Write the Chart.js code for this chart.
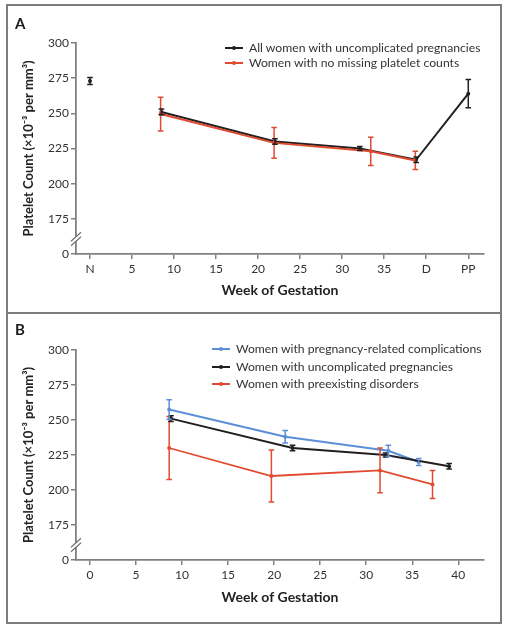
<!DOCTYPE html>
<html>
<head>
<meta charset="utf-8">
<script src="https://cdn.jsdelivr.net/npm/chart.js@4.4.1/dist/chart.umd.min.js"></script>
<style>
  html, body { margin: 0; padding: 0; background: #fff; }
  body { width: 506px; height: 628px; position: relative; overflow: hidden; font-family: Lato, "Open Sans", sans-serif; }
  canvas { position: absolute; left: 0; }
  #cA { top: 0; }
  #cB { top: 313px; }
  .frame { position: absolute; left: 6px; top: 4px; width: 492px; height: 616px; border: 2px solid #7d7d7d; pointer-events: none; }
  .divider { position: absolute; left: 6px; top: 312px; width: 496px; height: 2px; background: #7d7d7d; }
  .panel { position: absolute; font-weight: bold; font-size: 15px; color: #1a1a1a; }
  .leg { position: absolute; height: 16px; font-size: 12.2px; color: #333; white-space: nowrap; line-height: 16px; }
  .leg .smp { position: absolute; top: 7px; width: 18px; height: 2px; }
  .leg .dot { position: absolute; top: -1px; left: 7px; width: 4px; height: 4px; border-radius: 2px; }
  .leg .txt { position: absolute; top: 0; }
</style>
</head>
<body>
<canvas id="cA" width="506" height="313"></canvas>
<canvas id="cB" width="506" height="309"></canvas>
<div class="frame"></div>
<div class="divider"></div>
<div class="panel" style="left:15px; top:14px;">A</div>
<div class="panel" style="left:15px; top:320px;">B</div>
<div id="legA"></div>
<div id="legB"></div>
<script>
// ---------- Panel A data ----------
const weeksA_all = [0, 8.5, 22.0, 32.1, 38.8, 45];
const plateletA_all = [273, 251, 230, 225, 217, 264];
const errA_all = [2.5, 2, 2, 1.5, 2, 10];
const labelA_all = "All women with uncomplicated pregnancies";

const weeksA_complete = [8.4, 21.9, 33.4, 38.7];
const plateletA_complete = [249.5, 229, 223, 216.5];
const errA_complete = [12, 11, 10, 6.5];
const labelA_complete = "Women with no missing platelet counts";

const xTicksA = [0, 5, 10, 15, 20, 25, 30, 35, 40, 45];
const xTickNamesA = {0: "N", 40: "D", 45: "PP"};

// ---------- Panel B data ----------
const weeksB_compl = [8.6, 21.2, 32.4, 35.7];
const plateletB_compl = [257.5, 238, 228, 220];
const errB_compl = [7, 4.5, 4, 2.5];
const labelB_compl = "Women with pregnancy-related complications";

const weeksB_uncompl = [8.8, 22.0, 32.1, 39.0];
const plateletB_uncompl = [251, 230, 225, 217];
const errB_uncompl = [2, 2, 1.5, 2];
const labelB_uncompl = "Women with uncomplicated pregnancies";

const weeksB_pre = [8.6, 19.7, 31.5, 37.2];
const plateletB_pre = [230, 210, 214, 204];
const errB_pre = [22.5, 18.5, 16, 10];
const labelB_pre = "Women with preexisting disorders";

const xTicksB = [0, 5, 10, 15, 20, 25, 30, 35, 40];

// ---------- Shared axis ----------
const yTicks = [150, 175, 200, 225, 250, 275, 300];
const yTickNames = {150: "0"};
const xTitle = "Week of Gestation";
const yTitle = "Platelet Count (\u00d710\u207b\u00b3 per mm\u00b3)";

const BLACK = "#231f20", RED = "#e04b30", BLUE = "#5b8fd8", AXIS = "#808080", TXT = "#333";
const FONT = "Lato, 'Open Sans', sans-serif";

function pts(xs, ys) { return xs.map((x, i) => ({x: x, y: ys[i]})); }

const errorBars = {
  id: "errorBars",
  afterDatasetsDraw(chart) {
    const ctx = chart.ctx, xs = chart.scales.x, ys = chart.scales.y;
    chart.data.datasets.forEach((ds, di) => {
      if (!ds.errors) return;
      ctx.save();
      ctx.strokeStyle = ds.borderColor;
      ctx.lineWidth = 1.5;
      ds.data.forEach((p, i) => {
        const e = ds.errors[i];
        const px = xs.getPixelForValue(p.x);
        const y1 = ys.getPixelForValue(p.y + e), y2 = ys.getPixelForValue(p.y - e);
        ctx.beginPath();
        ctx.moveTo(px, y1); ctx.lineTo(px, y2);
        ctx.moveTo(px - 2.8, y1); ctx.lineTo(px + 2.8, y1);
        ctx.moveTo(px - 2.8, y2); ctx.lineTo(px + 2.8, y2);
        ctx.stroke();
      });
      ctx.restore();
    });
  }
};

const axisBreak = {
  id: "axisBreak",
  afterDraw(chart) {
    const ctx = chart.ctx, ca = chart.chartArea;
    const x = ca.left, yc = ca.bottom - 15;
    ctx.save();
    ctx.fillStyle = "#fff";
    ctx.fillRect(x - 2, yc - 2.5, 4, 5);
    ctx.strokeStyle = "#6f6f6f";
    ctx.lineWidth = 1.2;
    [-2.3, 2.3].forEach(d => {
      ctx.beginPath();
      ctx.moveTo(x - 5, yc + d + 4.5);
      ctx.lineTo(x + 5, yc + d - 4.5);
      ctx.stroke();
    });
    ctx.restore();
  }
};

function makeOptions(xMin, xMax, xTicks, xNames, padTop, xScaleH, xTitlePadBottom) {
  return {
    responsive: false,
    animation: false,
    devicePixelRatio: 1,
    layout: {padding: {left: 0, right: 22, top: padTop, bottom: 0}},
    plugins: {legend: {display: false}, tooltip: {enabled: false}},
    scales: {
      x: {
        type: "linear", min: xMin, max: xMax,
        afterBuildTicks: s => { s.ticks = xTicks.map(v => ({value: v})); },
        afterFit: s => { s.height = xScaleH; },
        grid: {display: true, drawOnChartArea: false, drawTicks: true, tickLength: 5, color: AXIS, lineWidth: 1.5},
        border: {display: true, color: AXIS, width: 1.8},
        ticks: {
          padding: 3, color: TXT, font: {family: FONT, size: 12}, maxRotation: 0, autoSkip: false,
          callback: v => (xNames && xNames[v] !== undefined) ? xNames[v] : String(v)
        },
        title: {display: true, text: xTitle, color: "#222", font: {family: FONT, size: 14, weight: "bold"},
                padding: {top: 0, bottom: xTitlePadBottom}}
      },
      y: {
        type: "linear", min: 150, max: 300,
        afterBuildTicks: s => { s.ticks = yTicks.map(v => ({value: v})); },
        afterFit: s => { s.width = 76; },
        grid: {display: true, drawOnChartArea: false, drawTicks: true, tickLength: 5, color: AXIS, lineWidth: 1.5},
        border: {display: true, color: AXIS, width: 1.8},
        ticks: {
          padding: 2, color: TXT, font: {family: FONT, size: 12}, autoSkip: false,
          callback: v => yTickNames[v] !== undefined ? yTickNames[v] : String(v)
        },
        title: {display: true, text: yTitle, color: "#222", font: {family: FONT, size: 13, weight: "bold"},
                padding: {top: 21, bottom: 0}}
      }
    }
  };
}

function lineDs(label, xs, ys, errs, color, extra) {
  return Object.assign({
    label: label,
    data: pts(xs, ys),
    errors: errs,
    borderColor: color,
    backgroundColor: color,
    borderWidth: 2,
    pointRadius: 2,
    pointBorderWidth: 0,
    pointBackgroundColor: color,
    tension: 0,
    fill: false
  }, extra || {});
}

// Panel A
new Chart(document.getElementById("cA"), {
  type: "line",
  data: {
    datasets: [
      lineDs(labelA_complete, weeksA_complete, plateletA_complete, errA_complete, RED),
      lineDs(labelA_all, weeksA_all, plateletA_all, errA_all, BLACK, {
        segment: {borderColor: c => c.p0DataIndex === 0 ? "rgba(0,0,0,0)" : BLACK}
      })
    ]
  },
  options: makeOptions(-1.665, 46.87, xTicksA, xTickNamesA, 43, 59, 14.6),
  plugins: [errorBars, axisBreak]
});

// Panel B
new Chart(document.getElementById("cB"), {
  type: "line",
  data: {
    datasets: [
      lineDs(labelB_pre, weeksB_pre, plateletB_pre, errB_pre, RED, {borderWidth: 1.8}),
      lineDs(labelB_uncompl, weeksB_uncompl, plateletB_uncompl, errB_uncompl, BLACK),
      lineDs(labelB_compl, weeksB_compl, plateletB_compl, errB_compl, BLUE)
    ]
  },
  options: makeOptions(-1.52, 42.79, xTicksB, null, 37, 62, 16.6),
  plugins: [errorBars, axisBreak]
});

// Legends (HTML)
function legend(el, items, sx, tx, ys) {
  items.forEach((it, i) => {
    const row = document.createElement("div");
    row.className = "leg";
    row.style.left = sx + "px";
    row.style.top = (ys[i] - 8) + "px";
    row.innerHTML = '<div class="smp" style="left:0;background:' + it[1] + '"><div class="dot" style="background:' + it[1] + '"></div></div>' +
                    '<div class="txt" style="left:' + (tx - sx) + 'px">' + it[0] + '</div>';
    el.appendChild(row);
  });
}
legend(document.getElementById("legA"), [[labelA_all, BLACK], [labelA_complete, RED]], 225, 249, [47.5, 63]);
legend(document.getElementById("legB"), [[labelB_compl, BLUE], [labelB_uncompl, BLACK], [labelB_pre, RED]], 212, 236, [349, 366.7, 384.3]);
</script>
</body>
</html>
